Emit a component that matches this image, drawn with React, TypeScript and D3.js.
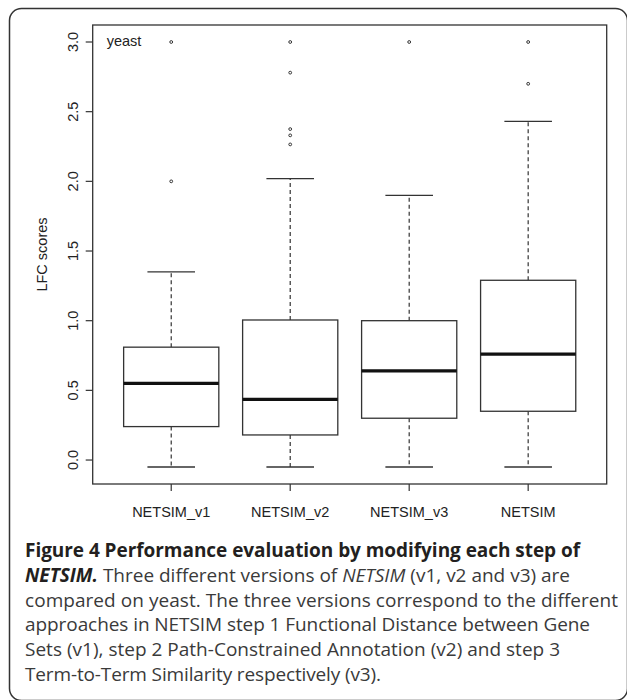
import React, { useRef, useEffect } from 'react';
import * as d3 from 'd3';

// box statistics
const groups = ['NETSIM_v1', 'NETSIM_v2', 'NETSIM_v3', 'NETSIM'];
const lowerWhisker = [-0.05, -0.05, -0.05, -0.05];
const q1 = [0.24, 0.18, 0.3, 0.35];
const median = [0.55, 0.435, 0.64, 0.76];
const q3 = [0.81, 1.005, 1.0, 1.29];
const upperWhisker = [1.35, 2.02, 1.9, 2.43];
const outliers = [
  [3.0, 2.0],
  [3.0, 2.78, 2.375, 2.33, 2.265],
  [3.0],
  [3.0, 2.7],
];
const yTicks = [0, 0.5, 1, 1.5, 2, 2.5, 3];

const captionLines = [
  'compared on yeast. The three versions correspond to the different',
  'approaches in NETSIM step 1 Functional Distance between Gene',
  'Sets (v1), step 2 Path-Constrained Annotation (v2) and step 3',
  'Term-to-Term Similarity respectively (v3).',
];
// right ends of the caption lines in the figure
const captionEnds = [580, 570, 618, 590, 560, 381];

const App = () => {
  const svgRef = useRef<SVGSVGElement>(null);
  const width = 627;
  const height = 700;

  useEffect(() => {
    const svg = d3.select(svgRef.current);
    svg.selectAll('*').remove();

    const ink = '#333';
    const plot = { left: 92.7, right: 606.7, top: 25, bottom: 484 };

    // R style axes: 4% padding on both ends
    const x = d3.scaleLinear().domain([0.34, 4.66]).range([plot.left, plot.right]);
    const y = d3.scaleLinear().domain([-0.172, 3.122]).range([plot.bottom, plot.top]);

    // outer figure frame
    svg.append('rect')
      .attr('x', 9.5).attr('y', 8.5)
      .attr('width', 618).attr('height', 692)
      .attr('rx', 12)
      .attr('fill', 'none')
      .attr('stroke', ink)
      .attr('stroke-width', 1.5);

    const g = svg.append('g');

    // boxes
    groups.forEach((name, i) => {
      const cx = x(i + 1);
      const bw = x(0.4) - x(0);
      const cw = x(0.2) - x(0);

      // whiskers
      [[q3[i], upperWhisker[i]], [q1[i], lowerWhisker[i]]].forEach(([a, b]) => {
        g.append('line')
          .attr('x1', cx).attr('x2', cx)
          .attr('y1', y(a)).attr('y2', y(b))
          .attr('stroke', ink).attr('stroke-width', 1.2)
          .attr('stroke-dasharray', '4,3');
        g.append('line')
          .attr('x1', cx - cw).attr('x2', cx + cw)
          .attr('y1', y(b)).attr('y2', y(b))
          .attr('stroke', ink).attr('stroke-width', 1.3);
      });

      g.append('rect')
        .attr('x', cx - bw).attr('width', bw * 2)
        .attr('y', y(q3[i])).attr('height', y(q1[i]) - y(q3[i]))
        .attr('fill', 'white')
        .attr('stroke', ink).attr('stroke-width', 1.3);

      g.append('line')
        .attr('x1', cx - bw).attr('x2', cx + bw)
        .attr('y1', y(median[i])).attr('y2', y(median[i]))
        .attr('stroke', '#111').attr('stroke-width', 3.2);

      g.selectAll(null)
        .data(outliers[i])
        .enter()
        .append('circle')
        .attr('cx', cx)
        .attr('cy', d => y(d))
        .attr('r', 1.4)
        .attr('fill', 'none')
        .attr('stroke', ink)
        .attr('stroke-width', 1);
    });

    // plot box
    g.append('rect')
      .attr('x', plot.left).attr('y', plot.top)
      .attr('width', plot.right - plot.left)
      .attr('height', plot.bottom - plot.top)
      .attr('fill', 'none')
      .attr('stroke', ink).attr('stroke-width', 1.3);

    const axisFont = '"Liberation Sans", Arial, sans-serif';

    // y axis
    yTicks.forEach(t => {
      g.append('line')
        .attr('x1', plot.left - 7).attr('x2', plot.left)
        .attr('y1', y(t)).attr('y2', y(t))
        .attr('stroke', ink).attr('stroke-width', 1.2);
      g.append('text')
        .attr('transform', `translate(78, ${y(t)}) rotate(-90)`)
        .attr('text-anchor', 'middle')
        .attr('font-family', axisFont)
        .attr('font-size', 14.5)
        .attr('fill', '#222')
        .text(d3.format('.1f')(t));
    });

    g.append('text')
      .attr('transform', `translate(47, ${(plot.top + plot.bottom) / 2}) rotate(-90)`)
      .attr('text-anchor', 'middle')
      .attr('font-family', axisFont)
      .attr('font-size', 14.5)
      .attr('fill', '#222')
      .text('LFC scores');

    // x axis
    groups.forEach((name, i) => {
      g.append('line')
        .attr('x1', x(i + 1)).attr('x2', x(i + 1))
        .attr('y1', plot.bottom).attr('y2', plot.bottom + 7)
        .attr('stroke', ink).attr('stroke-width', 1.2);
      g.append('text')
        .attr('x', x(i + 1)).attr('y', 517)
        .attr('text-anchor', 'middle')
        .attr('font-family', axisFont)
        .attr('font-size', 14.5)
        .attr('fill', '#222')
        .text(name);
    });

    g.append('text')
      .attr('x', 106.7).attr('y', 46)
      .attr('font-family', axisFont)
      .attr('font-size', 14.5)
      .attr('fill', '#222')
      .text('yeast');

    // caption
    const capFont = '"Open Sans", sans-serif';
    const lineGap = 24.8;
    const capLeft = 25;
    const cap = svg.append('g')
      .attr('font-family', capFont)
      .attr('font-size', 19);

    cap.append('text')
      .attr('x', capLeft).attr('y', 557)
      .attr('font-weight', 700)
      .attr('fill', '#231f20')
      .attr('textLength', captionEnds[0] - capLeft)
      .attr('lengthAdjust', 'spacing')
      .text('Figure 4 Performance evaluation by modifying each step of');

    const l2 = cap.append('text')
      .attr('x', capLeft).attr('y', 557 + lineGap)
      .attr('fill', '#3a3a3a')
      .attr('textLength', captionEnds[1] - capLeft)
      .attr('lengthAdjust', 'spacing');
    l2.append('tspan').attr('font-weight', 700).attr('font-style', 'italic').attr('fill', '#231f20').text('NETSIM.');
    l2.append('tspan').text(' Three different versions of ');
    l2.append('tspan').attr('font-style', 'italic').text('NETSIM');
    l2.append('tspan').text(' (v1, v2 and v3) are');

    captionLines.forEach((line, k) => {
      cap.append('text')
        .attr('x', capLeft).attr('y', 557 + lineGap * (k + 2))
        .attr('fill', '#3a3a3a')
        .attr('textLength', captionEnds[k + 2] - capLeft)
        .attr('lengthAdjust', 'spacing')
        .text(line);
    });
  }, []);

  return (
    <svg
      ref={svgRef}
      width={width}
      height={height}
      style={{ position: 'absolute', left: 0, top: 0, background: 'white' }}
    ></svg>
  );
};

export default App;
